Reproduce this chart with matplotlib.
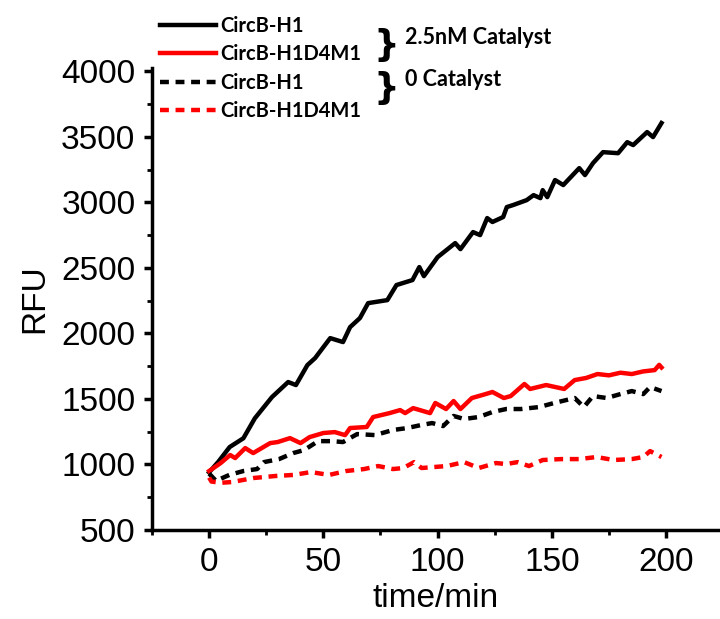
import numpy as np
import matplotlib
matplotlib.use("Agg")
import matplotlib.pyplot as plt
from matplotlib.ticker import MultipleLocator

# values (time in min, RFU)
t_h1_cat = [0, 4, 9, 15, 20, 27.5, 34.6, 38, 43, 46.4, 53, 58.6, 61.7, 66, 69.6, 78,
            82, 89, 92, 94, 100, 107.7, 110, 115.5, 118.6, 121.7, 124, 128.7, 130.3,
            133, 139, 142, 145, 146, 148, 151.4, 155, 162, 164.5, 168, 172.4, 179,
            183, 185.6, 191.7, 194.3, 198]
h1_cat = [940, 1020, 1133, 1200, 1352, 1514, 1629, 1606, 1758, 1812, 1964, 1934, 2048,
          2117, 2231, 2254, 2369, 2407, 2506, 2437, 2582, 2689, 2643, 2773, 2750, 2880,
          2850, 2888, 2964, 2979, 3017, 3055, 3032, 3093, 3040, 3170, 3132, 3261, 3208,
          3299, 3383, 3375, 3459, 3437, 3536, 3498, 3605]

t_h1d4m1_cat = [0, 5, 9.2, 11.4, 15.8, 19.3, 26.7, 30, 35.4, 40, 44, 50, 55, 59.5, 61.7,
                69, 71.8, 79, 83.6, 85.8, 89.3, 96.7, 99, 103.7, 107, 110, 115, 121, 124,
                129, 132, 138, 140.5, 147.5, 155.4, 160, 165, 170, 175, 180, 185, 190,
                195, 197, 198]
h1d4m1_cat = [950, 1010, 1072, 1049, 1125, 1087, 1163, 1171, 1201, 1163, 1209, 1240, 1247,
              1224, 1278, 1286, 1362, 1392, 1415, 1392, 1430, 1392, 1469, 1423, 1484, 1423,
              1507, 1537, 1553, 1507, 1522, 1614, 1576, 1606, 1576, 1644, 1660, 1690, 1680,
              1700, 1690, 1710, 1720, 1760, 1740]

t_h1_0 = [0, 1, 3, 8.8, 15, 21, 24, 30.6, 36.8, 41.6, 47.7, 53.8, 58.6, 64.8, 72.6, 80.5,
          86.7, 92.8, 97.6, 102.4, 107, 111.6, 118, 124, 130, 136.5, 144.4, 151, 160, 164,
          168, 174, 180, 185, 190, 193, 198]
h1_0 = [930, 912, 875, 920, 950, 965, 1018, 1041, 1087, 1110, 1178, 1178, 1171, 1232, 1224,
        1263, 1278, 1301, 1316, 1293, 1370, 1347, 1362, 1400, 1423, 1423, 1438, 1469, 1507,
        1438, 1522, 1507, 1537, 1560, 1537, 1591, 1560]

t_h1d4m1_0 = [0, 1, 5, 10, 19.6, 29, 36.8, 44.6, 52.5, 60, 67.8, 74, 80.5, 85, 89.7, 93,
              104, 111.6, 118, 125.6, 130, 135, 140, 146, 154, 162, 169.6, 177, 185, 190,
              193, 198]
h1d4m1_0 = [900, 870, 860, 866, 897, 912, 920, 942, 920, 950, 965, 988, 965, 973, 1018, 973,
            988, 1018, 973, 1011, 1003, 1018, 988, 1034, 1041, 1041, 1057, 1034, 1041, 1057,
            1102, 1057]

labels = ["CircB-H1", "CircB-H1D4M1", "CircB-H1", "CircB-H1D4M1"]
groups = ["2.5nM Catalyst", "0 Catalyst"]

plt.rcParams['font.family'] = ['Liberation Sans', 'DejaVu Sans']

fig = plt.figure(figsize=(7.2, 6.19), dpi=100)
ax = fig.add_axes([152 / 720, 1 - 530 / 619, 1 - 152 / 720, (530 - 68) / 619])

l1, = ax.plot(t_h1_cat, h1_cat, color='black', lw=3.2)
l2, = ax.plot(t_h1d4m1_cat, h1d4m1_cat, color='red', lw=3.2)
l3, = ax.plot(t_h1_0, h1_0, color='black', lw=3.2, ls=(0, (2, 1.5)))
l4, = ax.plot(t_h1d4m1_0, h1d4m1_0, color='red', lw=3.2, ls=(0, (2, 1.5)))

ax.set_xlim(-25, 223.6)
ax.set_ylim(500, 4025)
ax.xaxis.set_major_locator(MultipleLocator(50))
ax.xaxis.set_minor_locator(MultipleLocator(25))
ax.yaxis.set_major_locator(MultipleLocator(500))
ax.yaxis.set_minor_locator(MultipleLocator(250))
for s in ['top', 'right']:
    ax.spines[s].set_visible(False)
for s in ['left', 'bottom']:
    ax.spines[s].set_linewidth(2.5)
ax.tick_params(which='major', direction='out', length=6, width=2.5, labelsize=24, pad=6)
ax.tick_params(which='minor', direction='out', length=3.5, width=2)
ax.set_xlabel("time/min", fontsize=24, labelpad=4)
ax.set_ylabel("RFU", fontsize=24, labelpad=8)

leg = fig.legend([l1, l2, l3, l4], labels, loc='upper left',
                 bbox_to_anchor=(160 / 720, 1 - 16 / 619), frameon=False,
                 borderpad=0, borderaxespad=0, handlelength=2.8, handletextpad=0.2,
                 labelspacing=0.42, prop={'family': 'Lato', 'weight': 'bold', 'size': 14.5})

for yc, ytxt, g in [(45, 37, groups[0]), (88, 80, groups[1])]:
    fig.text(386 / 720, 1 - yc / 619, "}", fontsize=26, family='DejaVu Sans',
             weight='bold', ha='center', va='center')
    fig.text(405 / 720, 1 - ytxt / 619, g, fontsize=15.5, family='Lato',
             weight='bold', ha='left', va='center')

fig.savefig("out.png", dpi=100)
